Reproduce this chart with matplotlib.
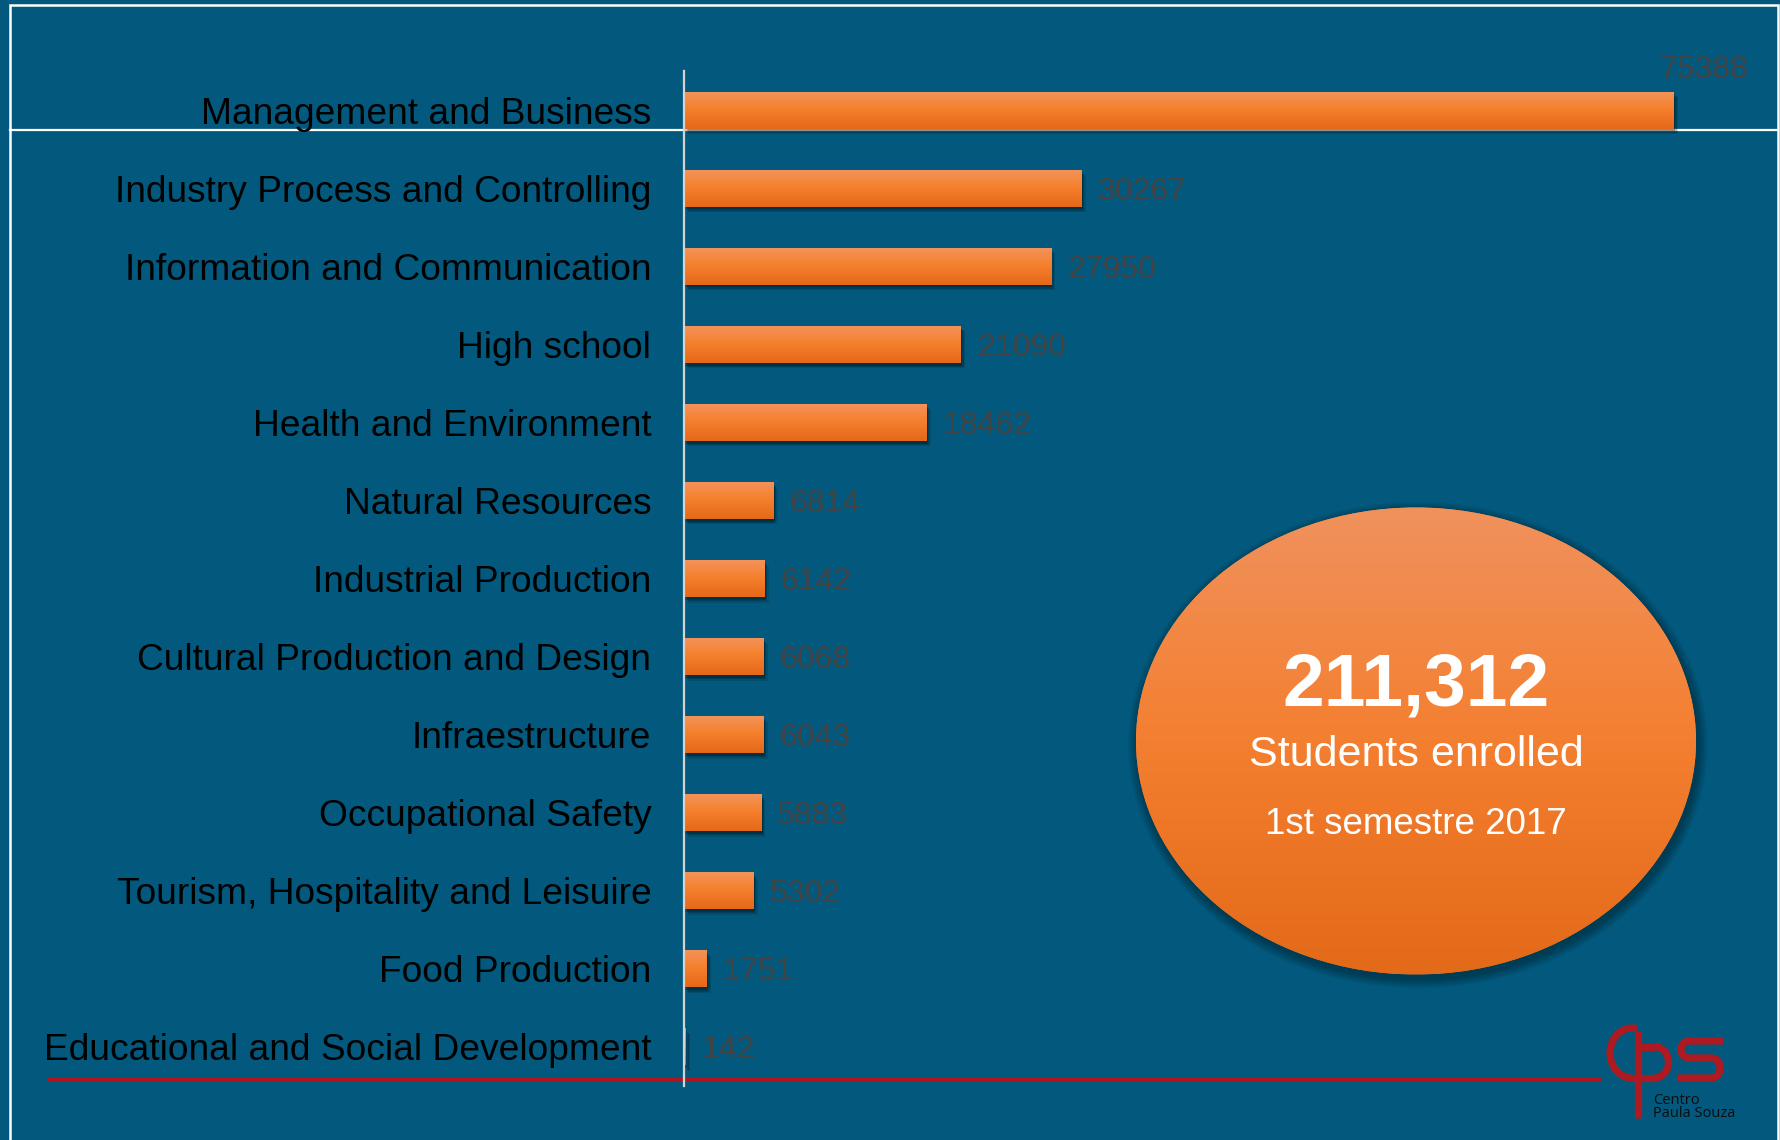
import numpy as np
import matplotlib
matplotlib.use("Agg")
import matplotlib.pyplot as plt
from matplotlib.patches import Ellipse, Arc, PathPatch
from matplotlib.path import Path
from matplotlib.colors import LinearSegmentedColormap
import matplotlib.patheffects as pe

# ---------------- data ----------------
categories = [
    "Management and Business",
    "Industry Process and Controlling",
    "Information and Communication",
    "High school",
    "Health and Environment",
    "Natural Resources",
    "Industrial Production",
    "Cultural Production and Design",
    "Infraestructure",
    "Occupational Safety",
    "Tourism, Hospitality and Leisuire",
    "Food Production",
    "Educational and Social Development",
]
values = [75388, 30267, 27950, 21090, 18462, 6814, 6142, 6068, 6043, 5883, 5302, 1751, 142]
total_text = "211,312"
sub1_text = "Students enrolled"
sub2_text = "1st semestre 2017"

# ---------------- style ----------------
W, H = 1781, 1140
BG = "#02597D"
FONT = "Liberation Sans"
plt.rcParams["font.family"] = [FONT, "DejaVu Sans"]

bar_cmap = LinearSegmentedColormap.from_list(
    "barg", [(0.0, "#F2935C"), (0.45, "#F5812F"), (1.0, "#E46818")])
ell_cmap = LinearSegmentedColormap.from_list(
    "ellg", [(0.0, "#F0915C"), (0.5, "#F47F30"), (1.0, "#E36A19")])

fig = plt.figure(figsize=(W / 100, H / 100), dpi=100, facecolor=BG)

# background overlay in pixel coordinates (y down)
bg = fig.add_axes([0, 0, 1, 1], zorder=0)
bg.set_xlim(0, W)
bg.set_ylim(H, 0)
bg.axis("off")
bg.patch.set_alpha(0)

# frame lines
bg.plot([10, 10, 1778, 1778], [H + 5, 5, 5, H + 5], color="white", lw=1.8,
        solid_joinstyle="miter")
# horizontal white rule
bg.plot([10, 1778], [129.5, 129.5], color="white", lw=1.6)
# red rule
bg.plot([48, 1599], [1079, 1079], color="#B0161E", lw=2.3)

# ---------------- main bar axes ----------------
ax_left, ax_top, ax_bottom = 684, 71, 1086
xmax = 80000
px_per_unit = (1674 - 684) / 75388.0
ax_w = xmax * px_per_unit
ax = fig.add_axes([ax_left / W, 1 - ax_bottom / H, ax_w / W, (ax_bottom - ax_top) / H],
                  zorder=1)
ax.patch.set_alpha(0)

n = len(categories)
ypos = np.arange(n)
bh = 0.474
grad = np.linspace(0, 1, 64).reshape(-1, 1)

bars = ax.barh(ypos, values, height=bh, color="#F27F30", zorder=2)
for b, v, y in zip(bars, values, ypos):
    b.set_path_effects([
        pe.SimplePatchShadow(offset=(3, -4), shadow_rgbFace="black", alpha=0.12),
        pe.SimplePatchShadow(offset=(2, -3), shadow_rgbFace="black", alpha=0.18),
        pe.SimplePatchShadow(offset=(1, -2), shadow_rgbFace="black", alpha=0.22),
        pe.Normal()])
    im = ax.imshow(grad, extent=[0, v, y + bh / 2, y - bh / 2], aspect="auto",
                   cmap=bar_cmap, zorder=3, interpolation="bilinear")
    im.set_clip_path(b)

for i, (v, y) in enumerate(zip(values, ypos)):
    if i == 0:
        ax.annotate(str(v), xy=(v, y), xytext=(-10.8, 31.0), textcoords="offset points",
                    ha="left", va="center_baseline", fontsize=23, color="#444444", zorder=5)
    else:
        ax.annotate(str(v), xy=(v, y), xytext=(11.5, 0), textcoords="offset points",
                    ha="left", va="center_baseline", fontsize=23, color="#444444", zorder=5)

ax.set_xlim(0, xmax)
ax.set_ylim(n - 0.5, -0.5)
ax.set_yticks(ypos)
ax.set_yticklabels(categories, fontsize=26.75, color="black")
ax.tick_params(axis="y", length=0, pad=23.5)
ax.set_xticks([])
for s in ["top", "right", "bottom"]:
    ax.spines[s].set_visible(False)
ax.spines["left"].set_color("#D4D4D4")
ax.spines["left"].set_linewidth(1.6)
ax.spines["left"].set_zorder(6)

# ---------------- top overlay: ellipse + logo ----------------
top = fig.add_axes([0, 0, 1, 1], zorder=3)
top.set_xlim(0, W)
top.set_ylim(H, 0)
top.axis("off")
top.patch.set_alpha(0)

cx, cy, ew, eh = 1416, 741, 560, 467
for k in range(8):
    top.add_patch(Ellipse((cx + 2, cy + 4), ew + 2 + 2.5 * k, eh + 2 + 2.5 * k,
                          facecolor="black", edgecolor="none", alpha=0.045, zorder=1))
ell = Ellipse((cx, cy), ew, eh, facecolor="#F27F30", edgecolor="none", zorder=2)
top.add_patch(ell)
eim = top.imshow(grad, extent=[cx - ew / 2, cx + ew / 2, cy + eh / 2, cy - eh / 2],
                 aspect="auto", cmap=ell_cmap, zorder=3, interpolation="bilinear")
eim.set_clip_path(ell)
top.set_xlim(0, W)
top.set_ylim(H, 0)

top.text(cx, 686, total_text, ha="center", va="center", fontsize=54,
         fontweight="bold", color="white", zorder=5)
top.text(cx, 755, sub1_text, ha="center", va="center", fontsize=31,
         color="white", zorder=5)
top.text(cx, 825, sub2_text, ha="center", va="center", fontsize=26.5,
         color="white", zorder=5)

# logo "cps"
RED = "#AE1A22"
lw_logo = 5.2
# c
top.add_patch(Arc((1632, 1053), 44, 50, theta1=90, theta2=282, color=RED,
                  lw=lw_logo, zorder=5))
# p stem
top.plot([1638.5, 1638.5], [1031, 1118], color=RED, lw=lw_logo,
         solid_capstyle="butt", zorder=5)
# bottom joint c -> bowl
top.plot([1631, 1655], [1078, 1078], color=RED, lw=lw_logo,
         solid_capstyle="butt", zorder=5)
# bowl top
top.plot([1638.5, 1655], [1046.5, 1046.5], color=RED, lw=lw_logo,
         solid_capstyle="butt", zorder=5)
top.add_patch(Arc((1654.5, 1062.25), 28, 31.5, theta1=-90, theta2=90, color=RED,
                  lw=lw_logo, zorder=5))
# s
verts = [(1723, 1041), (1690, 1041), (1681, 1041), (1681, 1049.5), (1681, 1058),
         (1690, 1058), (1711, 1058), (1720, 1058), (1720, 1068), (1720, 1078),
         (1711, 1078), (1678, 1078)]
codes = [Path.MOVETO, Path.LINETO, Path.CURVE3, Path.CURVE3, Path.CURVE3, Path.CURVE3,
         Path.LINETO, Path.CURVE3, Path.CURVE3, Path.CURVE3, Path.CURVE3, Path.LINETO]
top.add_patch(PathPatch(Path(verts, codes), facecolor="none", edgecolor=RED,
                        lw=lw_logo, capstyle="butt", zorder=5))
top.text(1653, 1100, "Centro", ha="left", va="center", fontsize=10.5,
         family="Open Sans", color="#0d0d0d", zorder=5)
top.text(1653, 1113.5, "Paula Souza", ha="left", va="center", fontsize=10.5,
         family="Open Sans", color="#0d0d0d", zorder=5)

fig.savefig("out.png", dpi=100, facecolor=BG)
